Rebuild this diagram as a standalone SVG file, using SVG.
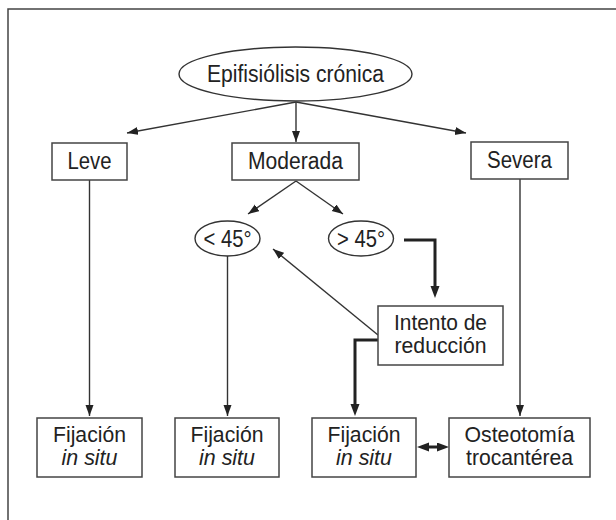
<svg xmlns="http://www.w3.org/2000/svg" width="616" height="520" viewBox="0 0 616 520">
<style>
  .box { fill: #fff; stroke: #444; stroke-width: 1.5; }
  .ell { fill: #fff; stroke: #333; stroke-width: 1.4; }
  .txt { font-family: "Liberation Sans", Arial, sans-serif; font-size: 23px; fill: #222; text-anchor: middle; }
  .two { font-size: 21.5px; }
  .it { font-style: italic; }
  .thin { fill: none; stroke: #333; stroke-width: 1.4; marker-end: url(#arr); }
  .thick { fill: none; stroke: #222; stroke-width: 3; stroke-linejoin: miter; }
  .frame { fill: none; stroke: #444; stroke-width: 1.5; }
</style>
<defs>
  <marker id="arr" markerUnits="userSpaceOnUse" markerWidth="12" markerHeight="9" refX="11" refY="4" orient="auto">
    <path d="M0,0 L11,4 L0,8 z" fill="#222"/>
  </marker>
  <marker id="arrT" markerUnits="userSpaceOnUse" markerWidth="13" markerHeight="10" refX="7" refY="4.5" orient="auto-start-reverse">
    <path d="M0,0 L12,4.5 L0,9 z" fill="#222"/>
  </marker>
</defs>
<path class="frame" d="M8,520 V9 H616"/>
<g id="connectors">
  <path class="thin" d="M296,102 L127,133"/>
  <path class="thin" d="M296,102 V142"/>
  <path class="thin" d="M296,102 L466,133"/>
  <path class="thin" d="M296,181 L248,214"/>
  <path class="thin" d="M296,181 L343,214"/>
  <path class="thin" d="M89.5,180 V416"/>
  <path class="thin" d="M227.5,256 V416"/>
  <path class="thin" d="M520,178 V416"/>
  <path class="thin" d="M378,335 L273,249"/>
  <path class="thick" d="M404,240 H435 V293" marker-end="url(#arrT)"/>
  <path class="thick" d="M378,340 H355 V411" marker-end="url(#arrT)"/>
  <path class="thick" d="M422,447 H444" marker-start="url(#arrT)" marker-end="url(#arrT)"/>
</g>
<g id="root">
  <ellipse class="ell" cx="295.5" cy="74" rx="116.5" ry="27"/>
  <text class="txt" x="295.5" y="82" textLength="177" lengthAdjust="spacingAndGlyphs">Epifisiólisis crónica</text>
</g>
<g id="leve">
  <rect class="box" x="52" y="143" width="75" height="37"/>
  <text class="txt" x="89.5" y="169" textLength="44" lengthAdjust="spacingAndGlyphs">Leve</text>
</g>
<g id="moderada">
  <rect class="box" x="232" y="143" width="127" height="37"/>
  <text class="txt" x="295.5" y="169" textLength="95" lengthAdjust="spacingAndGlyphs">Moderada</text>
</g>
<g id="severa">
  <rect class="box" x="471" y="142" width="97" height="37"/>
  <text class="txt" x="519.5" y="168" textLength="65" lengthAdjust="spacingAndGlyphs">Severa</text>
</g>
<g id="menos45">
  <ellipse class="ell" cx="227.5" cy="238.5" rx="32.5" ry="17.5"/>
  <text class="txt" x="227.5" y="246.5" textLength="48" lengthAdjust="spacingAndGlyphs">&lt; 45°</text>
</g>
<g id="mas45">
  <ellipse class="ell" cx="361" cy="238.5" rx="32.5" ry="17.5"/>
  <text class="txt" x="361" y="246.5" textLength="48" lengthAdjust="spacingAndGlyphs">&gt; 45°</text>
</g>
<g id="intento">
  <rect class="box" x="378" y="306" width="125" height="59"/>
  <text class="txt two" x="440.5" y="329.5" textLength="93" lengthAdjust="spacingAndGlyphs">Intento de</text>
  <text class="txt two" x="440.5" y="352.5" textLength="92" lengthAdjust="spacingAndGlyphs">reducción</text>
</g>
<g id="fijacion1">
  <rect class="box" x="37" y="418" width="105" height="59"/>
  <text class="txt two" x="89.5" y="441.5" textLength="73" lengthAdjust="spacingAndGlyphs">Fijación</text>
  <text class="txt two it" x="89.5" y="464.5" textLength="56" lengthAdjust="spacingAndGlyphs">in situ</text>
</g>
<g id="fijacion2">
  <rect class="box" x="175" y="418" width="104" height="59"/>
  <text class="txt two" x="227" y="441.5" textLength="73" lengthAdjust="spacingAndGlyphs">Fijación</text>
  <text class="txt two it" x="227" y="464.5" textLength="56" lengthAdjust="spacingAndGlyphs">in situ</text>
</g>
<g id="fijacion3">
  <rect class="box" x="312" y="418" width="104" height="59"/>
  <text class="txt two" x="364" y="441.5" textLength="73" lengthAdjust="spacingAndGlyphs">Fijación</text>
  <text class="txt two it" x="364" y="464.5" textLength="56" lengthAdjust="spacingAndGlyphs">in situ</text>
</g>
<g id="osteotomia">
  <rect class="box" x="449" y="418" width="141" height="59"/>
  <text class="txt two" x="519.5" y="441.5" textLength="110" lengthAdjust="spacingAndGlyphs">Osteotomía</text>
  <text class="txt two" x="519.5" y="464.5" textLength="107" lengthAdjust="spacingAndGlyphs">trocantérea</text>
</g>
</svg>
